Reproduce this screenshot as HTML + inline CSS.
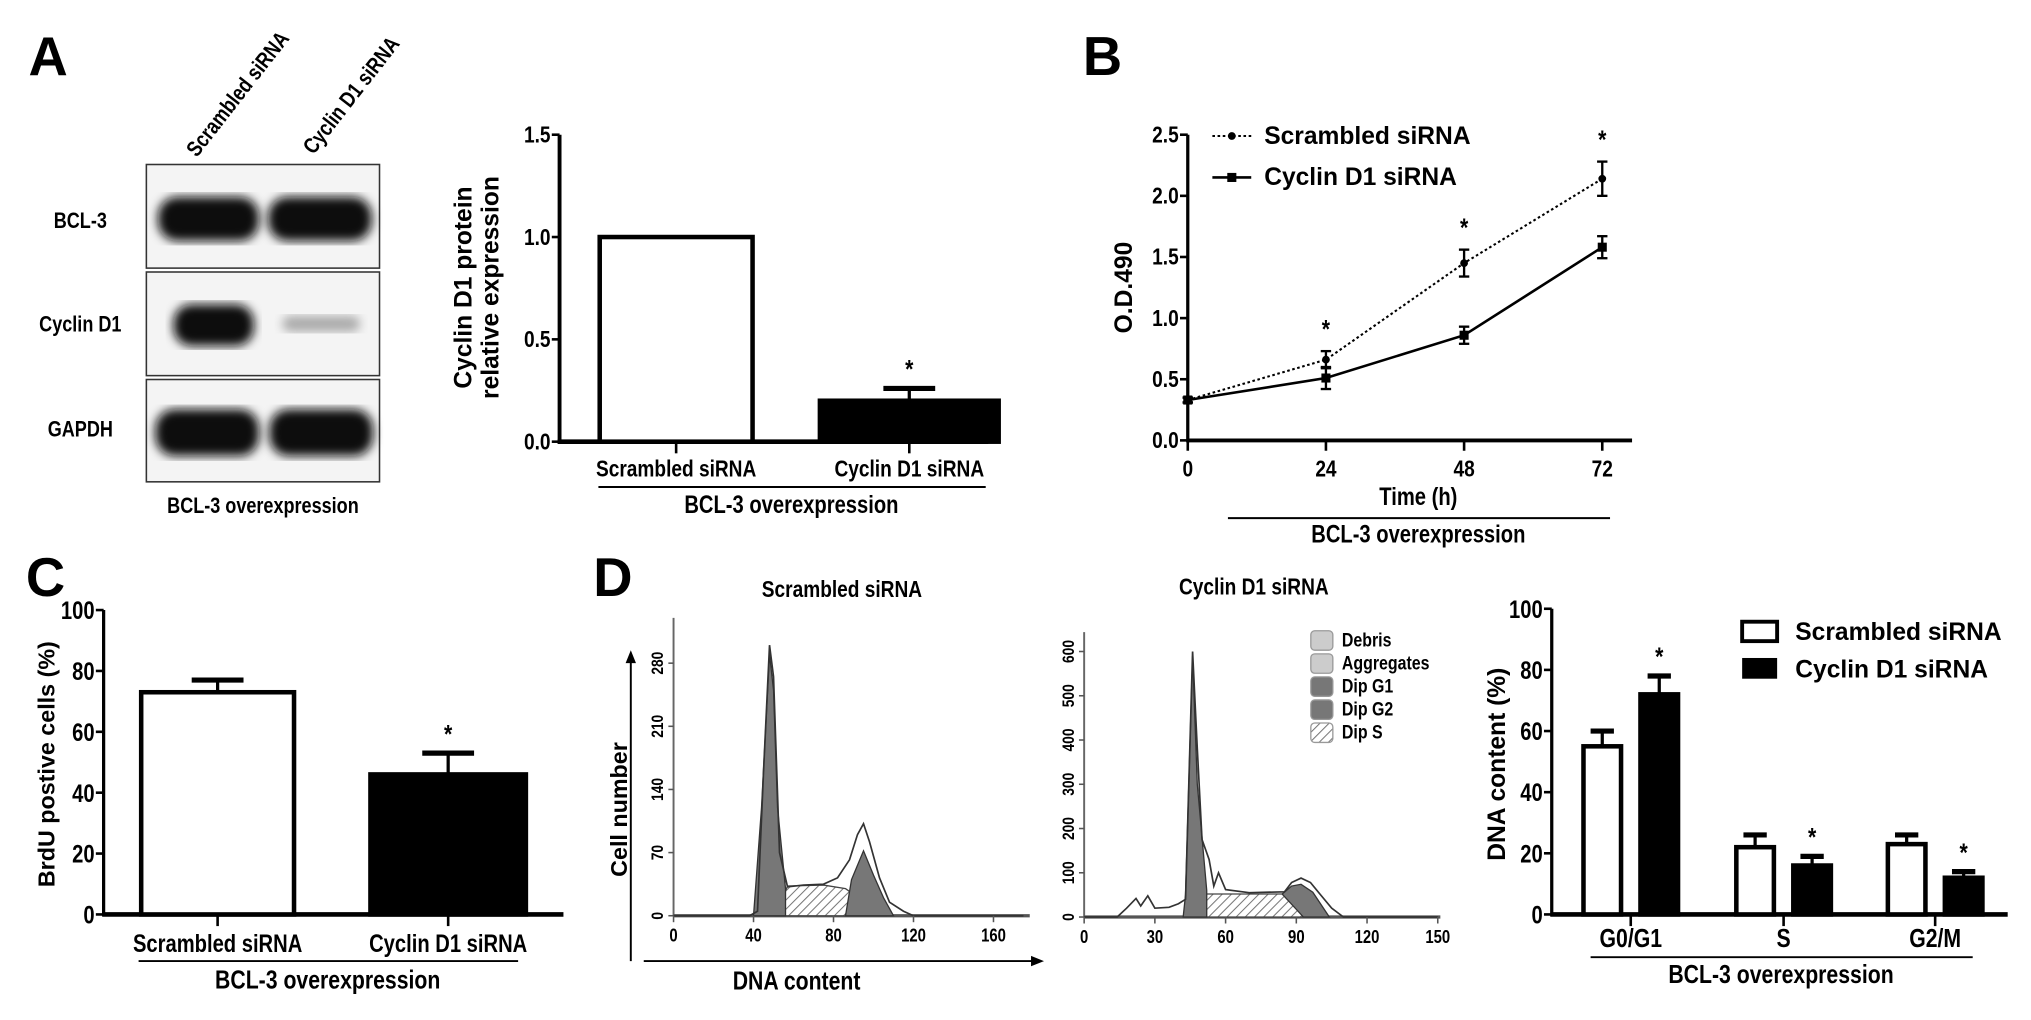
<!DOCTYPE html>
<html><head><meta charset="utf-8">
<style>
html,body{margin:0;padding:0;background:#fff;}
svg{display:block;}
text{font-family:"Liberation Sans Narrow","Liberation Sans",sans-serif;font-weight:bold;fill:#000;}
.ar{font-family:"Liberation Sans",sans-serif;}
</style></head>
<body>
<svg id="fig" xmlns="http://www.w3.org/2000/svg" width="2031" height="1020" viewBox="0 0 1568 787.5" preserveAspectRatio="none">
<defs>
<pattern id="hatch" patternUnits="userSpaceOnUse" width="5" height="5" patternTransform="rotate(45)"><rect width="5" height="5" fill="#fff"/><line x1="0" y1="0" x2="0" y2="5" stroke="#777" stroke-width="1.6"/></pattern>
<filter id="blur"><feGaussianBlur stdDeviation="4"/></filter>
</defs>
<text class="ar" x="22" y="58" font-size="42">A</text>
<text class="ar" x="836" y="58" font-size="42">B</text>
<text class="ar" x="20" y="460" font-size="42">C</text>
<text class="ar" x="458" y="460" font-size="42">D</text>

<g>
<text font-size="17" transform="translate(152,122) rotate(-52) scale(0.82,1)">Scrambled siRNA</text>
<text font-size="17" transform="translate(242,120) rotate(-52) scale(0.82,1)">Cyclin D1 siRNA</text>
<g>
<rect x="113" y="127" width="180" height="80" fill="#f4f4f4" stroke="#333" stroke-width="1.2"/>
<rect x="122" y="152" width="78" height="34" rx="15" fill="#111" filter="url(#blur)"/>
<rect x="207" y="152" width="80" height="34" rx="15" fill="#111" filter="url(#blur)"/>
</g>
<g>
<rect x="113" y="210" width="180" height="80" fill="#f4f4f4" stroke="#333" stroke-width="1.2"/>
<rect x="134" y="235" width="62" height="32" rx="14" fill="#111" filter="url(#blur)"/>
<rect x="218" y="244" width="60" height="12" rx="6" fill="#aaa" filter="url(#blur)"/>
</g>
<g>
<rect x="113" y="293" width="180" height="79" fill="#f4f4f4" stroke="#333" stroke-width="1.2"/>
<rect x="120" y="316" width="80" height="36" rx="15" fill="#111" filter="url(#blur)"/>
<rect x="208" y="316" width="80" height="36" rx="15" fill="#111" filter="url(#blur)"/>
</g>
<text font-size="17" text-anchor="middle" transform="translate(62,176) scale(0.82,1)">BCL-3</text>
<text font-size="17" text-anchor="middle" transform="translate(62,256) scale(0.82,1)">Cyclin D1</text>
<text font-size="17" text-anchor="middle" transform="translate(62,337) scale(0.82,1)">GAPDH</text>
<text font-size="17" text-anchor="middle" transform="translate(203,396) scale(0.82,1)">BCL-3 overexpression</text>
</g>
<g id="charts"></g>
</svg>
<script>
// ---- Panel A bar chart data ----
const aCategories = ["Scrambled siRNA", "Cyclin D1 siRNA"];
const aValues = [1.0, 0.2];
const aErrors = [0.0, 0.06];
const aTicks = [0, 0.5, 1.0, 1.5];
const aTickLabels = ["0.0", "0.5", "1.0", "1.5"];

// ---- Panel B line chart data ----
const bTimes = [0, 24, 48, 72];
const bTickLabels = ["0", "24", "48", "72"];
const bScrambled = [0.33, 0.66, 1.45, 2.14];
const bScrambledErr = [0.02, 0.07, 0.11, 0.14];
const bCyclin = [0.33, 0.51, 0.86, 1.58];
const bCyclinErr = [0.02, 0.09, 0.07, 0.09];
const bYTicks = [0, 0.5, 1.0, 1.5, 2.0, 2.5];
const bYTickLabels = ["0.0", "0.5", "1.0", "1.5", "2.0", "2.5"];

// ---- Panel C bar chart data ----
const cCategories = ["Scrambled siRNA", "Cyclin D1 siRNA"];
const cValues = [73, 46];
const cErrors = [4, 7];
const cTicks = [0, 20, 40, 60, 80, 100];

// ---- Panel D histogram data (DNA content, cell count) ----
const h1Envelope = [[0,0],[38,0],[42,5],[45,160],[48,300],[50,265],[53,70],[57,32],[65,34],[75,35],[82,42],[88,62],[92,90],[95,102],[98,82],[103,42],[108,15],[115,5],[120,0],[175,0]];
const h1G1 = [[40,0],[44,120],[48,290],[50,250],[52,120],[56,30],[56,0]];
const h1S = [[51,0],[57,33],[75,34],[86,30],[106,0]];
const h1G2 = [[86,0],[89,40],[95,72],[100,45],[105,20],[110,0]];
const h1XTicks = [0, 40, 80, 120, 160];
const h1YTicks = [0, 70, 140, 210, 280];

const h2Envelope = [[0,0],[14,0],[18,20],[22,42],[24,25],[27,48],[30,20],[36,22],[40,30],[43,40],[46,600],[48,380],[50,175],[53,130],[55,70],[57,100],[60,62],[70,55],[85,57],[88,78],[92,88],[96,78],[100,52],[105,20],[110,0],[150,0]];
const h2G1 = [[42,0],[43,50],[46,590],[48,300],[52,60],[52,0]];
const h2S = [[48,0],[52,52],[85,52],[95,0]];
const h2G2 = [[84,52],[88,70],[92,74],[97,56],[104,0],[93,0]];
const h2XTicks = [0, 30, 60, 90, 120, 150];
const h2YTicks = [0, 100, 200, 300, 400, 500, 600];
const h2Legend = ["Debris", "Aggregates", "Dip G1", "Dip G2", "Dip S"];

// ---- Panel D bar chart data ----
const dCategories = ["G0/G1", "S", "G2/M"];
const dScrambled = [55, 22, 23];
const dScrambledErr = [5, 4, 3];
const dCyclin = [72, 16, 12];
const dCyclinErr = [6, 3, 2];
const dTicks = [0, 20, 40, 60, 80, 100];

const NS = "http://www.w3.org/2000/svg";
const root = document.getElementById("charts");
function mk(tag, attrs, name, parent) {
  const el = document.createElementNS(NS, tag);
  for (const k in attrs) el.setAttribute(k, attrs[k]);
  
  
  (parent || root).appendChild(el);
  return el;
}
function txt(x, y, s, size, name, anchor, extra) {
  extra = Object.assign({}, extra || {});
  const sx = extra.class === "ar" ? 1 : 0.82;
  if (extra.transform) {
    extra.transform += " scale(" + sx + ",1)";
  } else {
    extra.transform = "translate(" + x + "," + y + ") scale(" + sx + ",1)";
    x = 0; y = 0;
  }
  const t = mk("text", Object.assign({x: x, y: y, "font-size": size, "text-anchor": anchor || "middle"}, extra), name);
  t.textContent = s;
  return t;
}
function line(x1, y1, x2, y2, w, name, extra) {
  return mk("line", Object.assign({x1: x1, y1: y1, x2: x2, y2: y2, stroke: "#000", "stroke-width": w}, extra || {}), name);
}
function errbar(x, y1, y2, cap, name) {
  line(x, y1, x, y2, 2.5, name + "-stem");
  line(x - cap, y2, x + cap, y2, 4, name + "-cap");
}

// ================= Panel A bar chart =================
(function () {
  const x0 = 432, y0 = 341, yTop = 104, vMax = 1.5;
  const ya = v => y0 - (v / vMax) * (y0 - yTop);
  const centers = [522, 702];
  const widths = [118, 138];
  line(x0, yTop, x0, y0 + 1.5, 3, "a-y-axis");
  line(x0 - 1.5, y0, 763, y0, 3.5, "a-x-axis");
  aTicks.forEach((v, i) => {
    line(x0 - 6, ya(v), x0, ya(v), 2, "a-y-tick");
    txt(x0 - 7, ya(v) + 6, aTickLabels[i], 18, "a-y-tick-label", "end");
  });
  aCategories.forEach((c, i) => {
    const cx = centers[i], w = widths[i];
    mk("rect", {x: cx - w / 2, y: ya(aValues[i]), width: w, height: y0 - ya(aValues[i]), fill: i === 0 ? "#fff" : "#000", stroke: "#000", "stroke-width": 3.5}, "a-bar-" + i);
    if (aErrors[i] > 0) errbar(cx, ya(aValues[i]), ya(aValues[i] + aErrors[i]), 20, "a-error-" + i);
    line(cx, y0, cx, y0 + 9, 2, "a-x-tick");
    txt(cx, 368, c, 18, "a-x-label");
  });
  txt(702, ya(aValues[1] + aErrors[1]) - 8, "*", 20, "a-significance-star");
  line(462, 376, 761, 376, 1.5, "a-group-line");
  txt(611, 396, "BCL-3 overexpression", 19, "a-group-label");
  txt(0, 0, "Cyclin D1 protein", 19, "a-y-title-1", "middle", {transform: "translate(364,222) rotate(-90)", class: "ar"});
  txt(0, 0, "relative expression", 19, "a-y-title-2", "middle", {transform: "translate(385,222) rotate(-90)", class: "ar"});
})();

// ================= Panel B line chart =================
(function () {
  const x0 = 917, y0 = 340, yTop = 104, vMax = 2.5, xEnd = 1237;
  const xb = t => x0 + (t / 72) * (xEnd - x0);
  const yb = v => y0 - (v / vMax) * (y0 - yTop);
  line(x0, yTop, x0, y0 + 1.5, 2.5, "b-y-axis");
  line(x0 - 1, y0, 1260, y0, 3, "b-x-axis");
  bYTicks.forEach((v, i) => {
    line(x0 - 6, yb(v), x0, yb(v), 2, "b-y-tick");
    txt(x0 - 7, yb(v) + 6, bYTickLabels[i], 18, "b-y-tick-label", "end");
  });
  bTimes.forEach((t, i) => {
    line(xb(t), y0, xb(t), y0 + 8, 2, "b-x-tick");
    txt(xb(t), 368, bTickLabels[i], 18, "b-x-tick-label");
  });
  const ptsS = bTimes.map((t, i) => xb(t) + "," + yb(bScrambled[i])).join(" ");
  const ptsC = bTimes.map((t, i) => xb(t) + "," + yb(bCyclin[i])).join(" ");
  mk("polyline", {points: ptsS, fill: "none", stroke: "#000", "stroke-width": 1.6, "stroke-dasharray": "2,2"}, "b-scrambled-line");
  mk("polyline", {points: ptsC, fill: "none", stroke: "#000", "stroke-width": 2}, "b-cyclin-line");
  bTimes.forEach((t, i) => {
    const x = xb(t);
    line(x, yb(bScrambled[i] - bScrambledErr[i]), x, yb(bScrambled[i] + bScrambledErr[i]), 1.8, "b-scrambled-err");
    line(x - 4, yb(bScrambled[i] + bScrambledErr[i]), x + 4, yb(bScrambled[i] + bScrambledErr[i]), 1.8, "b-scrambled-err-cap");
    line(x - 4, yb(bScrambled[i] - bScrambledErr[i]), x + 4, yb(bScrambled[i] - bScrambledErr[i]), 1.8, "b-scrambled-err-cap");
    line(x, yb(bCyclin[i] - bCyclinErr[i]), x, yb(bCyclin[i] + bCyclinErr[i]), 1.8, "b-cyclin-err");
    line(x - 4, yb(bCyclin[i] + bCyclinErr[i]), x + 4, yb(bCyclin[i] + bCyclinErr[i]), 1.8, "b-cyclin-err-cap");
    line(x - 4, yb(bCyclin[i] - bCyclinErr[i]), x + 4, yb(bCyclin[i] - bCyclinErr[i]), 1.8, "b-cyclin-err-cap");
    mk("circle", {cx: x, cy: yb(bScrambled[i]), r: 3, fill: "#000"}, "b-scrambled-point");
    mk("rect", {x: x - 3.5, y: yb(bCyclin[i]) - 3.5, width: 7, height: 7, fill: "#000"}, "b-cyclin-point");
    if (i > 0) txt(x, yb(bScrambled[i] + bScrambledErr[i]) - 10, "*", 20, "b-significance-star");
  });
  line(936, 105, 966, 105, 1.6, "b-legend-scrambled-line", {"stroke-dasharray": "2,2"});
  mk("circle", {cx: 951, cy: 105, r: 3, fill: "#000"}, "b-legend-scrambled-marker");
  txt(976, 111, "Scrambled siRNA", 19, "b-legend-scrambled-label", "start", {class: "ar", "font-weight": "normal"});
  line(936, 137, 966, 137, 2, "b-legend-cyclin-line");
  mk("rect", {x: 947.5, y: 133.5, width: 7, height: 7, fill: "#000"}, "b-legend-cyclin-marker");
  txt(976, 143, "Cyclin D1 siRNA", 19, "b-legend-cyclin-label", "start", {class: "ar", "font-weight": "normal"});
  txt(1095, 390, "Time (h)", 19, "b-x-title");
  line(948, 400, 1243, 400, 1.5, "b-group-line");
  txt(1095, 419, "BCL-3 overexpression", 19, "b-group-label");
  txt(0, 0, "O.D.490", 19, "b-y-title", "middle", {transform: "translate(874,222) rotate(-90)", class: "ar"});
})();

// ================= Panel C bar chart =================
(function () {
  const x0 = 80, y0 = 706, yTop = 471, vMax = 100;
  const yc = v => y0 - (v / vMax) * (y0 - yTop);
  const centers = [168, 346];
  const widths = [118, 120];
  line(x0, yTop, x0, y0 + 1.5, 2.5, "c-y-axis");
  line(x0 - 1, y0, 435, y0, 3.5, "c-x-axis");
  cTicks.forEach(v => {
    line(x0 - 6, yc(v), x0, yc(v), 2, "c-y-tick");
    txt(x0 - 7, yc(v) + 7, String(v), 19, "c-y-tick-label", "end");
  });
  cCategories.forEach((c, i) => {
    const cx = centers[i], w = widths[i];
    mk("rect", {x: cx - w / 2, y: yc(cValues[i]), width: w, height: y0 - yc(cValues[i]), fill: i === 0 ? "#fff" : "#000", stroke: "#000", "stroke-width": 3.5}, "c-bar-" + i);
    errbar(cx, yc(cValues[i]), yc(cValues[i] + cErrors[i]), 20, "c-error-" + i);
    line(cx, y0, cx, y0 + 9, 2, "c-x-tick");
    txt(cx, 735, c, 19, "c-x-label");
  });
  txt(346, yc(cValues[1] + cErrors[1]) - 8, "*", 20, "c-significance-star");
  line(107, 742, 400, 742, 1.5, "c-group-line");
  txt(253, 763, "BCL-3 overexpression", 20, "c-group-label");
  txt(0, 0, "BrdU postive cells (%)", 18, "c-y-title", "middle", {transform: "translate(42,590) rotate(-90)", class: "ar"});
})();

// ================= Panel D histograms =================
function histogram(opts) {
  const {ax, ay, pxPerX, pxPerY, env, g1, s, g2, xTicks, yTicks, yMaxPx, xMaxPx, pre} = opts;
  const hx = v => ax + v * pxPerX;
  const hy = v => ay - v * pxPerY;
  const poly = arr => arr.map(p => hx(p[0]) + "," + hy(p[1])).join(" ");
  line(ax, ay - yMaxPx, ax, ay, 1.5, pre + "-y-axis", {stroke: "#666"});
  line(ax, ay, ax + xMaxPx, ay, 2.5, pre + "-x-axis", {stroke: "#555"});
  mk("polygon", {points: poly(s), fill: "url(#hatch)", stroke: "#444", "stroke-width": 1}, pre + "-dip-s");
  mk("polygon", {points: poly(g2), fill: "#777", stroke: "#333", "stroke-width": 1}, pre + "-dip-g2");
  mk("polygon", {points: poly(g1), fill: "#777", stroke: "#333", "stroke-width": 1}, pre + "-dip-g1");
  mk("polyline", {points: poly(env), fill: "none", stroke: "#333", "stroke-width": 1.3}, pre + "-envelope");
  xTicks.forEach(v => {
    line(hx(v), ay, hx(v), ay + 5, 1.2, pre + "-x-tick", {stroke: "#555"});
    txt(hx(v), ay + 20, String(v), 14, pre + "-x-tick-label", "middle");
  });
  yTicks.forEach(v => {
    line(ax - 4, hy(v), ax, hy(v), 1.2, pre + "-y-tick", {stroke: "#555"});
    txt(0, 0, String(v), 13, pre + "-y-tick-label", "middle", {transform: "translate(" + (ax - 8) + "," + hy(v) + ") rotate(-90)"});
  });
}
histogram({ax: 520, ay: 707, pxPerX: (767 - 520) / 160, pxPerY: (707 - 512) / 280, env: h1Envelope, g1: h1G1, s: h1S, g2: h1G2, xTicks: h1XTicks, yTicks: h1YTicks, yMaxPx: 230, xMaxPx: 275, pre: "hist1"});
histogram({ax: 837, ay: 708, pxPerX: (1110 - 837) / 150, pxPerY: (708 - 503) / 600, env: h2Envelope, g1: h2G1, s: h2S, g2: h2G2, xTicks: h2XTicks, yTicks: h2YTicks, yMaxPx: 220, xMaxPx: 275, pre: "hist2"});
txt(650, 461, "Scrambled siRNA", 18, "hist1-title");
txt(968, 459, "Cyclin D1 siRNA", 18, "hist2-title");
line(487, 742, 487, 510, 1.5, "hist-y-arrow-line");
mk("polygon", {points: "483,512 491,512 487,502"}, "hist-y-arrowhead");
line(497, 742, 798, 742, 1.5, "hist-x-arrow-line");
mk("polygon", {points: "796,738 796,746 806,742"}, "hist-x-arrowhead");
txt(0, 0, "Cell number", 18, "hist-y-title", "middle", {transform: "translate(484,625) rotate(-90)", class: "ar"});
txt(615, 764, "DNA content", 20, "hist-x-title");
h2Legend.forEach((name, i) => {
  const y = 494 + i * 17.8;
  mk("rect", {x: 1012, y: y - 7, width: 17, height: 15, rx: 3, fill: i < 2 ? "#ccc" : (i < 4 ? "#777" : "url(#hatch)"), stroke: "#999", "stroke-width": 1}, "hist2-legend-swatch");
  txt(1036, y + 5, name, 15, "hist2-legend-label", "start");
});

// ================= Panel D bar chart =================
(function () {
  const x0 = 1198, y0 = 706, yTop = 470, vMax = 100;
  const yd = v => y0 - (v / vMax) * (y0 - yTop);
  const centers = [1259, 1377, 1494];
  const w = 29, off = 22;
  line(x0, yTop, x0, y0 + 1.5, 2.5, "d-y-axis");
  line(x0 - 1, y0, 1550, y0, 3.5, "d-x-axis");
  dTicks.forEach(v => {
    line(x0 - 6, yd(v), x0, yd(v), 2, "d-y-tick");
    txt(x0 - 7, yd(v) + 7, String(v), 19, "d-y-tick-label", "end");
  });
  dCategories.forEach((c, i) => {
    const cx = centers[i];
    const xs = cx - off, xc = cx + off;
    mk("rect", {x: xs - w / 2, y: yd(dScrambled[i]), width: w, height: y0 - yd(dScrambled[i]), fill: "#fff", stroke: "#000", "stroke-width": 3.5}, "d-bar-scrambled-" + i);
    errbar(xs, yd(dScrambled[i]), yd(dScrambled[i] + dScrambledErr[i]), 9, "d-error-scrambled-" + i);
    mk("rect", {x: xc - w / 2, y: yd(dCyclin[i]), width: w, height: y0 - yd(dCyclin[i]), fill: "#000", stroke: "#000", "stroke-width": 3.5}, "d-bar-cyclin-" + i);
    errbar(xc, yd(dCyclin[i]), yd(dCyclin[i] + dCyclinErr[i]), 9, "d-error-cyclin-" + i);
    txt(xc, yd(dCyclin[i] + dCyclinErr[i]) - 8, "*", 20, "d-significance-star");
    line(cx, y0, cx, y0 + 9, 2, "d-x-tick");
    txt(cx, 731, c, 20, "d-x-label");
  });
  line(1228, 739, 1523, 739, 1.5, "d-group-line");
  txt(1375, 759, "BCL-3 overexpression", 20, "d-group-label");
  txt(0, 0, "DNA content (%)", 19, "d-y-title", "middle", {transform: "translate(1162,590) rotate(-90)", class: "ar"});
  mk("rect", {x: 1345, y: 480, width: 27, height: 15, fill: "#fff", stroke: "#000", "stroke-width": 3}, "d-legend-scrambled-swatch");
  txt(1386, 494, "Scrambled siRNA", 19, "d-legend-scrambled-label", "start", {class: "ar", "font-weight": "normal"});
  mk("rect", {x: 1345, y: 508, width: 27, height: 16, fill: "#000"}, "d-legend-cyclin-swatch");
  txt(1386, 523, "Cyclin D1 siRNA", 19, "d-legend-cyclin-label", "start", {class: "ar", "font-weight": "normal"});
})();
</script>
</body></html>
